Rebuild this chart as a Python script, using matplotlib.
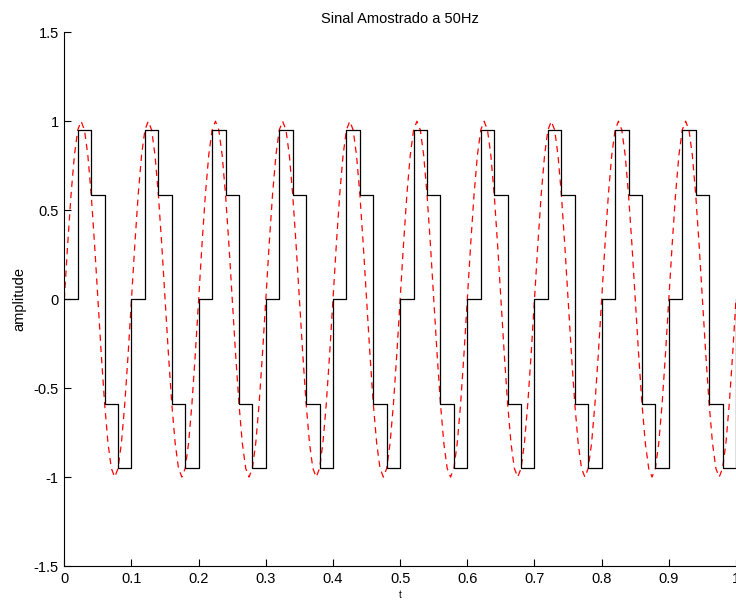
import numpy as np
import matplotlib
matplotlib.use("Agg")
import matplotlib.pyplot as plt

# samples taken at 50 Hz (every 0.02 s), held until the next sample
t_samples = [0.00, 0.02, 0.04, 0.06, 0.08, 0.10, 0.12, 0.14, 0.16, 0.18,
             0.20, 0.22, 0.24, 0.26, 0.28, 0.30, 0.32, 0.34, 0.36, 0.38,
             0.40, 0.42, 0.44, 0.46, 0.48, 0.50, 0.52, 0.54, 0.56, 0.58,
             0.60, 0.62, 0.64, 0.66, 0.68, 0.70, 0.72, 0.74, 0.76, 0.78,
             0.80, 0.82, 0.84, 0.86, 0.88, 0.90, 0.92, 0.94, 0.96, 0.98, 1.00]
y_samples = [0, 0.951, 0.588, -0.588, -0.951] * 10 + [0]

# original signal (red dashed), read every 0.005 s over one period, repeats every 0.1 s
period_vals = [0, 0.309, 0.588, 0.809, 0.951, 1.0, 0.951, 0.809, 0.588, 0.309,
               0, -0.309, -0.588, -0.809, -0.951, -1.0, -0.951, -0.809, -0.588, -0.309]
t_signal = [round(i * 0.005, 3) for i in range(201)]
y_signal = period_vals * 10 + [0]

plt.rcParams['font.family'] = ['Liberation Sans', 'DejaVu Sans']

fig = plt.figure(figsize=(7.36, 6.01), dpi=100)
ax = fig.add_axes([0.0874, 0.0582, 1.0 - 0.0874, 0.9463 - 0.0582])

ax.plot(t_signal, y_signal, color='red', linestyle=(0, (5, 4)), linewidth=0.9)
ax.step(t_samples, y_samples, where='post', color='black', linewidth=0.9)

ax.set_xlim(0, 1)
ax.set_ylim(-1.5, 1.5)
ax.set_xticks(np.arange(0, 1.01, 0.1))
ax.set_xticklabels(['0', '0.1', '0.2', '0.3', '0.4', '0.5', '0.6', '0.7', '0.8', '0.9', '1'])
ax.set_yticks([-1.5, -1, -0.5, 0, 0.5, 1, 1.5])
ax.set_yticklabels(['-1.5', '-1', '-0.5', '0', '0.5', '1', '1.5'])
ax.tick_params(direction='in', length=5, labelsize=10.5, width=0.8, pad=4)

ax.spines['top'].set_visible(False)
ax.spines['right'].set_visible(False)
for s in ('left', 'bottom'):
    ax.spines[s].set_linewidth(0.8)

ax.set_title('Sinal Amostrado a 50Hz', fontsize=10.5, pad=7)
ax.set_xlabel('t', fontsize=7, labelpad=3)
ax.set_ylabel('amplitude', fontsize=10.5, labelpad=5)

fig.savefig('out.png', dpi=100)
